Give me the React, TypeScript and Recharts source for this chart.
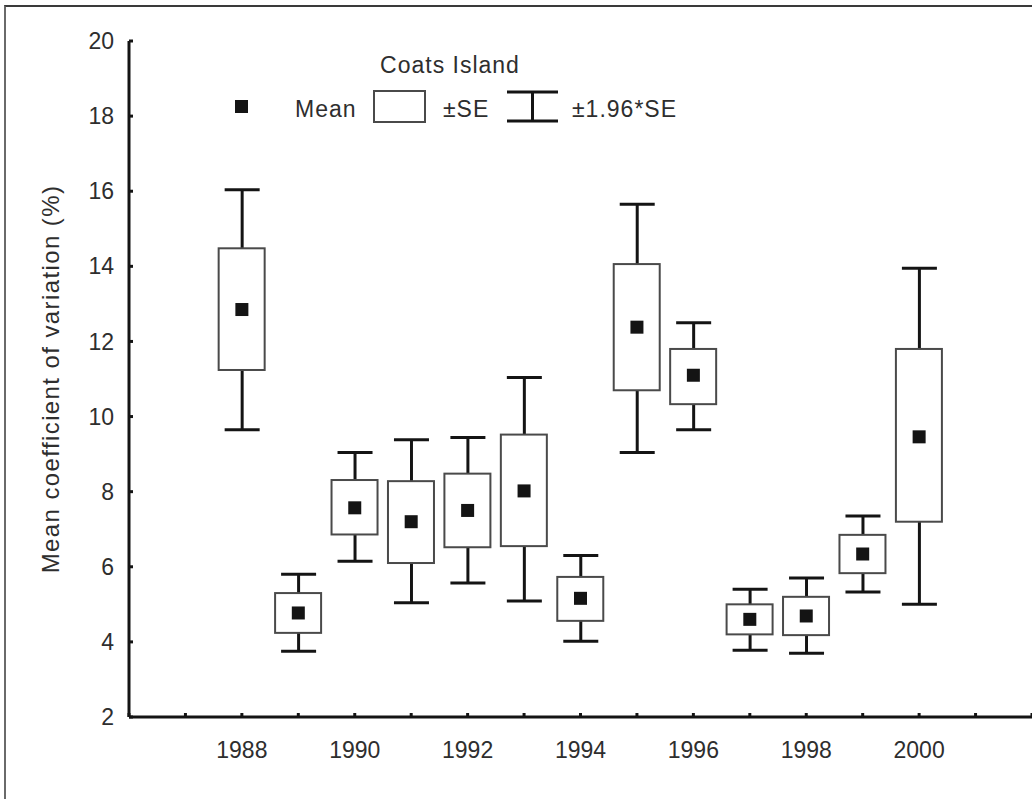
import React from "react";
import { Bar, ComposedChart, Scatter, XAxis, YAxis } from "recharts";

const years = [1988, 1989, 1990, 1991, 1992, 1993, 1994, 1995, 1996, 1997, 1998, 1999, 2000];
const means = [12.85, 4.77, 7.57, 7.2, 7.5, 8.02, 5.16, 12.38, 11.1, 4.6, 4.69, 6.34, 9.46];
const seLow = [11.24, 4.24, 6.86, 6.1, 6.52, 6.55, 4.56, 10.7, 10.33, 4.2, 4.18, 5.83, 7.2];
const seHigh = [14.48, 5.3, 8.31, 8.28, 8.48, 9.52, 5.73, 14.06, 11.8, 5.0, 5.2, 6.85, 11.8];
const ciLow = [9.65, 3.75, 6.15, 5.04, 5.57, 5.09, 4.02, 9.04, 9.65, 3.78, 3.7, 5.33, 5.0];
const ciHigh = [16.04, 5.8, 9.04, 9.38, 9.44, 11.04, 6.3, 15.65, 12.5, 5.4, 5.7, 7.35, 13.95];

const xTicks = [1986, 1987, 1988, 1989, 1990, 1991, 1992, 1993, 1994, 1995, 1996, 1997, 1998, 1999, 2000, 2001, 2002];
const labelledYears = [1988, 1990, 1992, 1994, 1996, 1998, 2000];
const yTicks = [2, 4, 6, 8, 10, 12, 14, 16, 18, 20];

const data = years.map((year, i) => ({
  year,
  mean: means[i],
  se: [seLow[i], seHigh[i]],
  ci: [ciLow[i], ciHigh[i]],
}));

const FONT = '"Liberation Sans", Arial, sans-serif';
const TEXT = "#2e2e2e";
const INK = "#141414";

const Whisker = (props: any) => {
  const { x, y, width, height } = props;
  const top = Math.min(y, y + height);
  const bottom = Math.max(y, y + height);
  const cx = x + width / 2;
  return (
    <g stroke={INK} strokeWidth={3}>
      <line x1={cx} x2={cx} y1={top} y2={bottom} />
      <line x1={x} x2={x + width} y1={top} y2={top} />
      <line x1={x} x2={x + width} y1={bottom} y2={bottom} />
    </g>
  );
};

const Box = (props: any) => {
  const { x, y, width, height } = props;
  return (
    <rect
      x={x}
      y={Math.min(y, y + height)}
      width={width}
      height={Math.abs(height)}
      fill="#fff"
      stroke="#4a4a4a"
      strokeWidth={2}
    />
  );
};

const MeanMark = (props: any) => (
  <rect x={props.cx - 6.5} y={props.cy - 6.5} width={13} height={13} fill={INK} />
);

const tickStyle = { fill: TEXT, fontSize: 23, fontFamily: FONT };

function LegendOverlay() {
  const t = { fontFamily: FONT, fontSize: 23, fill: TEXT, letterSpacing: 1 };
  return (
    <svg
      width={1032}
      height={140}
      style={{ position: "absolute", left: 0, top: 0, pointerEvents: "none" }}
    >
      <text x={450} y={73} textAnchor="middle" {...t}>
        Coats Island
      </text>
      <rect x={235} y={100} width={13} height={13} fill={INK} />
      <text x={295} y={117} {...t}>
        Mean
      </text>
      <rect x={374} y={91} width={51} height={31} fill="#fff" stroke="#4a4a4a" strokeWidth={2} />
      <text x={443} y={117} {...t}>
        ±SE
      </text>
      <g stroke={INK} strokeWidth={3}>
        <line x1={507} x2={558} y1={92} y2={92} />
        <line x1={507} x2={558} y1={121} y2={121} />
        <line x1={532.5} x2={532.5} y1={92} y2={121} />
      </g>
      <text x={572} y={117} {...t}>
        ±1.96*SE
      </text>
    </svg>
  );
}

export default function App() {
  return (
    <div
      style={{
        position: "relative",
        width: 1032,
        height: 799,
        overflow: "hidden",
        background: "#fff",
      }}
    >
      <style>{"body{margin:0}"}</style>
      <div
        style={{
          position: "absolute",
          left: 4,
          top: 5,
          width: 1200,
          height: 1000,
          borderTop: "2px solid #3a3a3a",
          borderLeft: "2px solid #6a6a6a",
        }}
      />
      <ComposedChart
        width={1032}
        height={799}
        data={data}
        margin={{ top: 41, right: 0, bottom: 22, left: 0 }}
      >
        <XAxis xAxisId="w" dataKey="year" type="number" domain={[1986, 2002]} ticks={xTicks} height={0} hide />
        <XAxis xAxisId="b" dataKey="year" type="number" domain={[1986, 2002]} ticks={xTicks} height={0} hide />
        <XAxis
          xAxisId="main"
          dataKey="year"
          type="number"
          domain={[1986, 2002]}
          ticks={xTicks}
          interval={0}
          height={60}
          tickFormatter={(v: number) => (labelledYears.includes(v) ? String(v) : "")}
          tick={tickStyle}
          tickSize={-4}
          tickMargin={29}
          axisLine={{ stroke: INK, strokeWidth: 3 }}
          tickLine={{ stroke: INK, strokeWidth: 3 }}
        />
        <YAxis
          type="number"
          domain={[2, 20]}
          ticks={yTicks}
          interval={0}
          width={129}
          tick={tickStyle}
          tickSize={-4}
          tickMargin={19}
          axisLine={{ stroke: INK, strokeWidth: 3 }}
          tickLine={{ stroke: INK, strokeWidth: 3 }}
          label={{
            value: "Mean coefficient of variation (%)",
            angle: -90,
            position: "insideLeft",
            offset: 50,
            style: {
              textAnchor: "middle",
              fontFamily: FONT,
              fontSize: 24,
              fill: TEXT,
              letterSpacing: 1.4,
            },
          }}
        />
        <Bar
          xAxisId="w"
          dataKey="ci"
          barSize={35}
          shape={<Whisker />}
          isAnimationActive={false}
        />
        <Bar
          xAxisId="b"
          dataKey="se"
          barSize={46}
          shape={<Box />}
          isAnimationActive={false}
        />
        <Scatter
          xAxisId="main"
          dataKey="mean"
          shape={<MeanMark />}
          isAnimationActive={false}
        />
      </ComposedChart>
      <LegendOverlay />
    </div>
  );
}
